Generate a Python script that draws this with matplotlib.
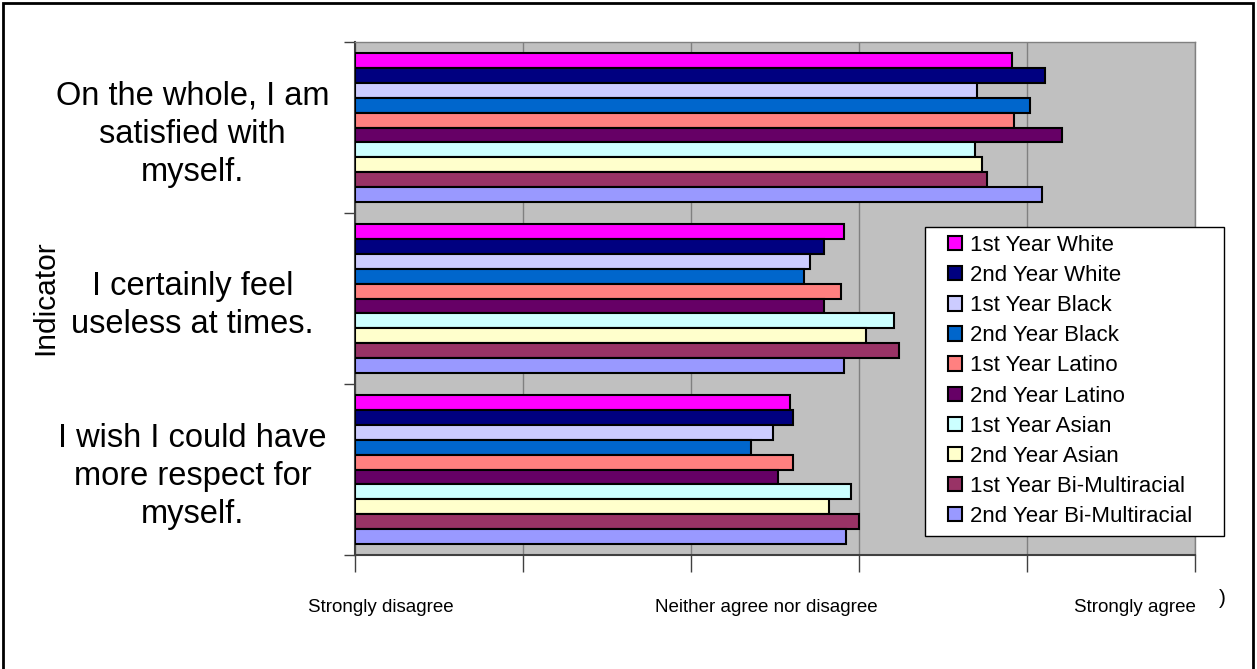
import matplotlib
matplotlib.use("Agg")
import matplotlib.pyplot as plt
from matplotlib.patches import Rectangle, Patch
import numpy as np

plt.rcParams['font.family'] = ['Liberation Sans', 'DejaVu Sans']

categories = ["On the whole, I am\nsatisfied with\nmyself.",
              "I certainly feel\nuseless at times.",
              "I wish I could have\nmore respect for\nmyself."]
series_names = ["1st Year White", "2nd Year White", "1st Year Black", "2nd Year Black",
                "1st Year Latino", "2nd Year Latino", "1st Year Asian", "2nd Year Asian",
                "1st Year Bi-Multiracial", "2nd Year Bi-Multiracial"]
colors = ["#FF00FF", "#000080", "#CCCCFF", "#0066CC", "#FF8080",
          "#660066", "#CCFFFF", "#FFFFCC", "#993366", "#9999FF"]
# values per series for [satisfied, useless, respect]
white_1 = [3.91, 2.91, 2.59]
white_2 = [4.11, 2.79, 2.61]
black_1 = [3.70, 2.71, 2.49]
black_2 = [4.02, 2.67, 2.36]
latino_1 = [3.92, 2.89, 2.61]
latino_2 = [4.21, 2.79, 2.52]
asian_1 = [3.69, 3.21, 2.95]
asian_2 = [3.73, 3.04, 2.82]
multi_1 = [3.76, 3.24, 3.00]
multi_2 = [4.09, 2.91, 2.92]
series_values = [white_1, white_2, black_1, black_2, latino_1, latino_2,
                 asian_1, asian_2, multi_1, multi_2]
scale_labels = ["Strongly disagree", "Neither agree nor disagree", "Strongly agree"]

W, H = 1257, 669
fig = plt.figure(figsize=(W / 100, H / 100), dpi=100)
fig.patch.set_facecolor("white")

# axes rect in pixels: left 355, right 1195, top 42, bottom 555
ax = fig.add_axes([355 / W, 1 - 555 / H, (1195 - 355) / W, (555 - 42) / H])
ax.set_facecolor("#C0C0C0")

n_series = len(series_values)
h = 0.0866
centers = np.arange(len(categories)) + 0.5
for j, (vals, col, name) in enumerate(zip(series_values, colors, series_names)):
    y = centers + (j - (n_series - 1) / 2) * h
    ax.barh(y, vals, height=h, color=col, edgecolor="black", linewidth=1.5,
            label=name, zorder=3)

ax.set_xlim(0, 5)
ax.set_ylim(3, 0)
ax.set_xticks(np.arange(0, 6))
ax.set_xticklabels([])
ax.tick_params(axis="x", direction="out", length=12, width=1, color="#404040")
ax.xaxis.grid(True, color="#808080", linewidth=1, zorder=0)
ax.set_axisbelow(True)

ax.set_yticks(centers)
ax.set_yticklabels(categories, ha="center", fontsize=23.5, linespacing=1.3)
ax.tick_params(axis="y", which="major", length=0, pad=117)
ax.set_yticks(np.arange(0, 4), minor=True)
ax.tick_params(axis="y", which="minor", direction="out", length=8, width=1, color="#404040")

for s in ["top", "right"]:
    ax.spines[s].set_color("#808080")
    ax.spines[s].set_linewidth(1)
ax.spines["left"].set_color("#404040")
ax.spines["left"].set_linewidth(1.5)
ax.spines["bottom"].set_color("#404040")
ax.spines["bottom"].set_linewidth(1.5)

fig.text(45 / W, 1 - 298 / H, "Indicator", rotation=90, ha="center", va="center", fontsize=21.5)

for lbl, xp in zip(scale_labels, [381, 766, 1135]):
    fig.text(xp / W, 1 - 608 / H, lbl, ha="center", va="center", fontsize=13.5)
fig.text(1222 / W, 1 - 598 / H, ")", ha="center", va="center", fontsize=15)

# legend box (frame drawn separately to match the reference box size)
fig.patches.append(Rectangle((925 / W, 1 - 536 / H), (1224 - 925) / W, (536 - 227) / H,
                             transform=fig.transFigure, facecolor="white",
                             edgecolor="black", linewidth=1, zorder=4))
handles = [Patch(facecolor=c, edgecolor="black", linewidth=1.5) for c in colors]
leg = fig.legend(handles, series_names, loc="upper left",
                 bbox_to_anchor=(948 / W, 1 - 235 / H), fontsize=16,
                 frameon=False, handlelength=0.62, handleheight=0.62,
                 handletextpad=0.35, labelspacing=0.41, borderpad=0,
                 borderaxespad=0)
leg.set_zorder(5)

# outer border
fig.patches.append(Rectangle((3 / W, -0.05), 1250 / W, 1 - 3 / H + 0.05,
                             transform=fig.transFigure, fill=False,
                             edgecolor="black", linewidth=2))

fig.savefig("out.png", dpi=100)
